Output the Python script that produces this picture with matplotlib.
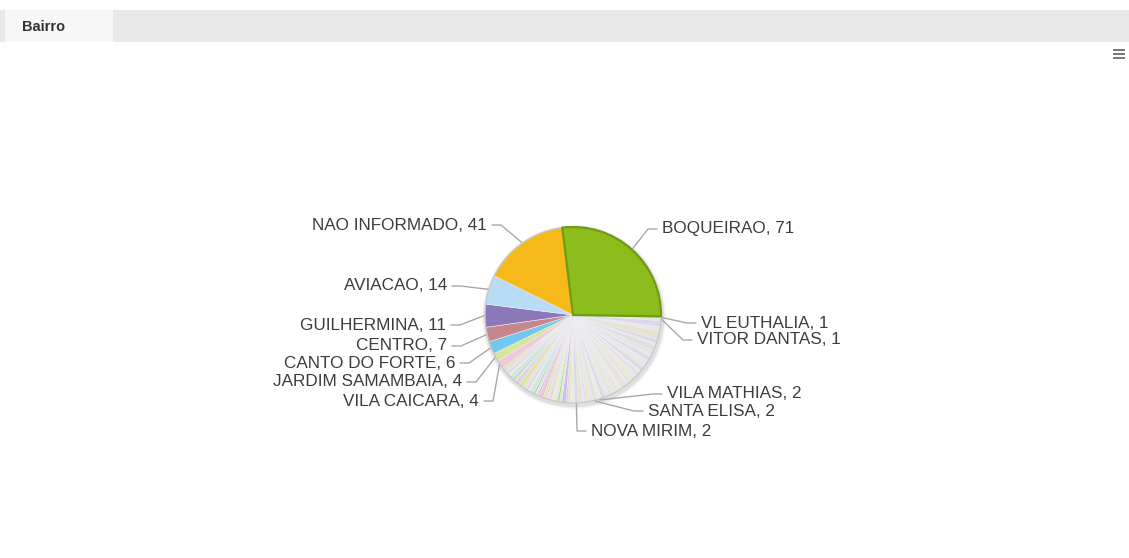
import matplotlib.pyplot as plt
import numpy as np
from matplotlib.patches import Rectangle, Circle

plt.rcParams['font.family'] = ['Liberation Sans', 'DejaVu Sans']

# Data: slices in drawing order (clockwise from the top)
labels = ['BOQUEIRAO', 'VL EUTHALIA', 'VITOR DANTAS'] + [''] * 28 + \
         ['VILA MATHIAS', 'SANTA ELISA'] + [''] * 5 + ['NOVA MIRIM'] + [''] * 32 + \
         ['VILA CAICARA', 'JARDIM SAMAMBAIA', 'CANTO DO FORTE', 'CENTRO',
          'GUILHERMINA', 'AVIACAO', 'NAO INFORMADO']
values = [71, 1, 1,
          3, 2, 4, 2, 1, 3, 2, 1, 2, 3, 1, 2, 1, 2, 1, 3, 1, 1, 2, 1, 2, 1, 1, 2, 1, 1, 1, 2,
          2, 2,
          1, 2, 1, 1, 2,
          2,
          2, 1, 1, 2, 1, 1, 1, 2, 1, 1, 1, 1, 2, 1, 1, 1, 2, 1, 1, 1, 1, 2, 1, 1, 1, 1, 2, 1,
          1, 1, 1, 1,
          4, 4, 6, 7, 11, 14, 41]

main_colors = {'BOQUEIRAO': '#8cbd1c', 'NAO INFORMADO': '#f5b919', 'AVIACAO': '#b9dcf6',
               'GUILHERMINA': '#8a78b8', 'CENTRO': '#c7868b', 'CANTO DO FORTE': '#74c6ee',
               'JARDIM SAMAMBAIA': '#d6e79a', 'VILA CAICARA': '#f0c8dc'}
pale_right = ['#e4e4e4', '#eae8d3', '#dcd9ec', '#e8e8e8', '#e6e4cf', '#dad8ea', '#edebdb', '#e0e0e0']
pale_left = ['#d6e899', '#f0c5da', '#c9c2e6', '#e4e4e4', '#b2da70', '#c9e4f3', '#f1edc0',
             '#d6ceea', '#e0e0e0', '#f4d3c2']

colors = []
n_right = 0
n_left = 0
for i, lab in enumerate(labels):
    if lab in main_colors:
        colors.append(main_colors[lab])
    elif i < 40:
        colors.append(pale_right[n_right % len(pale_right)])
        n_right += 1
    else:
        colors.append(pale_left[n_left % len(pale_left)])
        n_left += 1

# label text positions (pixels) and side
label_pos = {
    'NAO INFORMADO': (487, 225, 'right'),
    'AVIACAO': (447, 286, 'right'),
    'GUILHERMINA': (446, 325, 'right'),
    'CENTRO': (447, 346, 'right'),
    'CANTO DO FORTE': (455, 363, 'right'),
    'JARDIM SAMAMBAIA': (462, 382, 'right'),
    'VILA CAICARA': (479, 401, 'right'),
    'BOQUEIRAO': (662, 229, 'left'),
    'VL EUTHALIA': (701, 323, 'left'),
    'VITOR DANTAS': (697, 340, 'left'),
    'VILA MATHIAS': (667, 394, 'left'),
    'SANTA ELISA': (648, 411, 'left'),
    'NOVA MIRIM': (591, 431, 'left'),
}

W, H = 1129, 558
fig = plt.figure(figsize=(W / 100, H / 100), dpi=100)
ax = fig.add_axes([0, 0, 1, 1])

cx, cy, r = 573, 315, 88

# soft shadow behind the pie
for k, a in [(4, 0.03), (3, 0.04), (2, 0.06)]:
    ax.add_patch(Circle((cx + 1, cy + 2), r + k, color='#000000', alpha=a, lw=0, zorder=1))

wedges, _ = ax.pie(values, colors=colors, startangle=263, counterclock=True,
                   center=(cx, cy), radius=r,
                   wedgeprops=dict(edgecolor='#efeef6', linewidth=0.4, zorder=2))
wedges[0].set_edgecolor('#6f9c12')
wedges[0].set_linewidth(1.6)
wedges[0].set_zorder(3)
ax.add_patch(Circle((cx, cy), r, fill=False, edgecolor='#c4c4c4', lw=0.8, zorder=2.5))

# labels with connectors
for w, lab, val in zip(wedges, labels, values):
    if lab not in label_pos:
        continue
    tx, ty, side = label_pos[lab]
    mid = np.deg2rad((w.theta1 + w.theta2) / 2)
    px = cx + (r + 1) * np.cos(mid)
    py = cy + (r + 1) * np.sin(mid)
    if side == 'right':
        x0 = tx + 5
        x1 = tx + 14
    else:
        x0 = tx - 5
        x1 = tx - 14
    ax.plot([x0, x1, px], [ty, ty, py], color='#a8a8a8', lw=1.0, zorder=4,
            solid_capstyle='round')
    ax.text(tx, ty, f'{lab}, {val}', ha=side, va='center', fontsize=12.3,
            color='#3c3c3c', zorder=5)

# header bar with tab
ax.add_patch(Rectangle((0, 10), W, 32, color='#e9e9e9', lw=0, zorder=0))
ax.add_patch(Rectangle((5, 10), 108, 32, color='#f7f7f7', lw=0, zorder=0.5))
ax.text(22, 27, 'Bairro', fontsize=10.5, fontweight='bold', color='#333333',
        va='center', ha='left')

# menu icon
for yy in [50, 54, 58]:
    ax.plot([1114, 1124], [yy, yy], color='#777777', lw=1.4)

ax.set_xlim(0, W)
ax.set_ylim(H, 0)
ax.set_aspect('equal')
ax.axis('off')

fig.savefig('out.png', dpi=100, facecolor='white')
